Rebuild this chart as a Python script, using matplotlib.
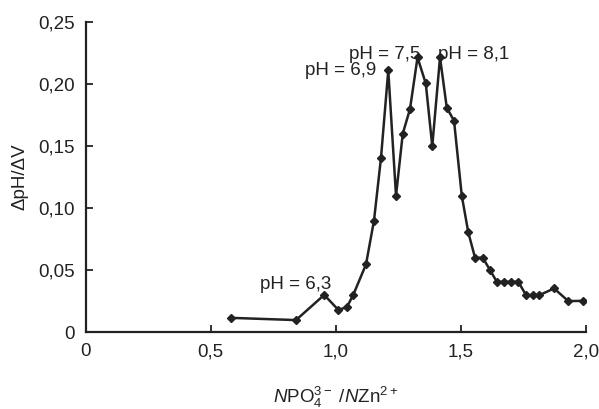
import numpy as np
import matplotlib
matplotlib.use('Agg')
import matplotlib.pyplot as plt

# data
ratio = [0.58, 0.841, 0.954, 1.01, 1.044, 1.07, 1.121, 1.153, 1.181, 1.21,
         1.241, 1.268, 1.297, 1.327, 1.36, 1.386, 1.417, 1.444, 1.473, 1.504,
         1.530, 1.557, 1.588, 1.617, 1.644, 1.673, 1.701, 1.730, 1.761, 1.788,
         1.814, 1.873, 1.930, 1.99]
dph_dv = [0.0115, 0.0097, 0.030, 0.018, 0.020, 0.030, 0.0546, 0.090, 0.1406, 0.211,
          0.110, 0.160, 0.180, 0.2215, 0.2005, 0.150, 0.2215, 0.181, 0.1704, 0.110,
          0.0804, 0.060, 0.060, 0.050, 0.0406, 0.0406, 0.0406, 0.0406, 0.0298, 0.0298,
          0.0298, 0.0352, 0.025, 0.0252]

xticks = [0, 0.5, 1.0, 1.5, 2.0]
xticklabels = ['0', '0,5', '1,0', '1,5', '2,0']
yticks = [0, 0.05, 0.10, 0.15, 0.20, 0.25]
yticklabels = ['0', '0,05', '0,10', '0,15', '0,20', '0,25']

# подписи пиков
peak_text = ['pH = 6,3', 'pH = 6,9', 'pH = 7,5', 'pH = 8,1']
peak_x = [0.841, 1.163, 1.195, 1.41]
peak_y = [0.0387, 0.211, 0.2235, 0.2235]
peak_ha = ['center', 'right', 'center', 'left']

plt.rcParams['font.family'] = ['Liberation Sans', 'DejaVu Sans']
plt.rcParams['mathtext.fontset'] = 'custom'
plt.rcParams['mathtext.rm'] = 'Liberation Sans'
plt.rcParams['mathtext.it'] = 'Liberation Sans:italic'

fs = 13.5

fig = plt.figure(figsize=(5.99, 4.09), dpi=100)
ax = fig.add_axes([0.143, 0.188, 0.835, 0.758])

ax.plot(ratio, dph_dv, color='#222222', lw=1.8, marker='D', ms=4.5,
        mfc='#222222', mec='#222222')

for t, x, y, ha in zip(peak_text, peak_x, peak_y, peak_ha):
    ax.text(x, y, t, ha=ha, va='center', fontsize=fs, color='#222222')

ax.set_xlim(0, 2.0)
ax.set_ylim(0, 0.25)
ax.set_xticks(xticks)
ax.set_xticklabels(xticklabels)
ax.set_yticks(yticks)
ax.set_yticklabels(yticklabels)
ax.tick_params(direction='in', length=5, width=1.3, labelsize=fs,
               colors='#222222', pad=8)

# оси: только левая и нижняя
for s in ['top', 'right']:
    ax.spines[s].set_visible(False)
for s in ['left', 'bottom']:
    ax.spines[s].set_linewidth(1.6)
    ax.spines[s].set_color('#222222')

ax.set_ylabel('ΔpH/ΔV', fontsize=fs, color='#222222', labelpad=7)
ax.set_xlabel(r'$\mathit{N}\mathrm{PO}_4^{3-}\ /\mathit{N}\mathrm{Zn}^{2+}$',
              fontsize=fs, color='#222222', labelpad=18)

fig.savefig('out.png', dpi=100)
